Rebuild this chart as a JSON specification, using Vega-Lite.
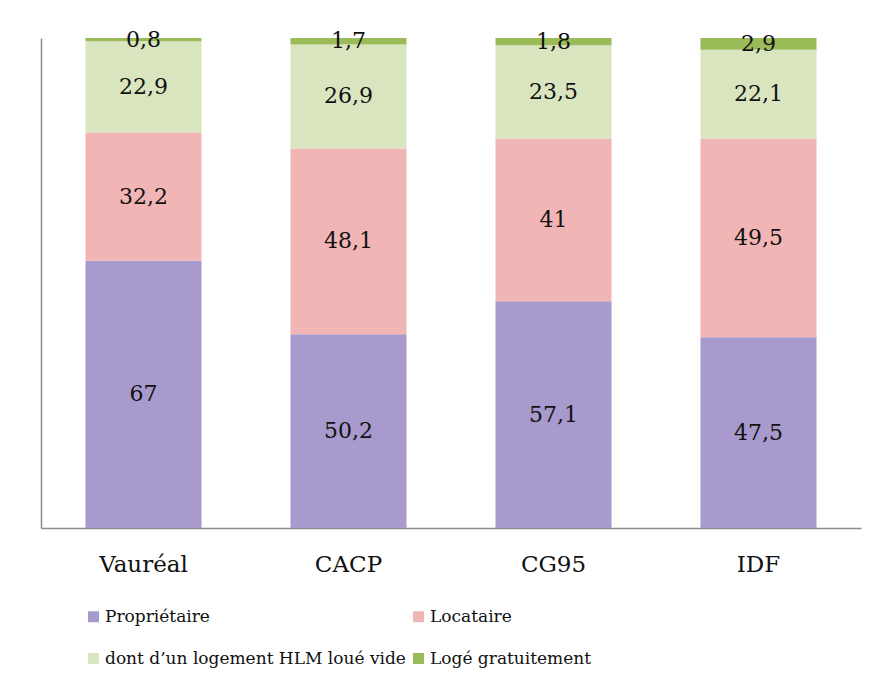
{
  "$schema": "https://vega.github.io/schema/vega-lite/v6.json",
  "width": 820,
  "height": 490,
  "autosize": {"type": "none"},
  "padding": {"left": 41, "top": 38, "right": 16, "bottom": 161},
  "background": "white",
  "config": {
    "view": {"stroke": null},
    "font": "DejaVu Serif",
    "locale": {"number": {"decimal": ",", "thousands": " ", "grouping": [3], "currency": ["", " €"]}}
  },
  "data": {
    "values": [
      {"zone": "Vauréal", "statut": "Propriétaire", "rang": 1, "valeur": 67},
      {"zone": "Vauréal", "statut": "Locataire", "rang": 2, "valeur": 32.2},
      {"zone": "Vauréal", "statut": "dont d’un logement HLM loué vide", "rang": 3, "valeur": 22.9},
      {"zone": "Vauréal", "statut": "Logé gratuitement", "rang": 4, "valeur": 0.8},
      {"zone": "CACP", "statut": "Propriétaire", "rang": 1, "valeur": 50.2},
      {"zone": "CACP", "statut": "Locataire", "rang": 2, "valeur": 48.1},
      {"zone": "CACP", "statut": "dont d’un logement HLM loué vide", "rang": 3, "valeur": 26.9},
      {"zone": "CACP", "statut": "Logé gratuitement", "rang": 4, "valeur": 1.7},
      {"zone": "CG95", "statut": "Propriétaire", "rang": 1, "valeur": 57.1},
      {"zone": "CG95", "statut": "Locataire", "rang": 2, "valeur": 41},
      {"zone": "CG95", "statut": "dont d’un logement HLM loué vide", "rang": 3, "valeur": 23.5},
      {"zone": "CG95", "statut": "Logé gratuitement", "rang": 4, "valeur": 1.8},
      {"zone": "IDF", "statut": "Propriétaire", "rang": 1, "valeur": 47.5},
      {"zone": "IDF", "statut": "Locataire", "rang": 2, "valeur": 49.5},
      {"zone": "IDF", "statut": "dont d’un logement HLM loué vide", "rang": 3, "valeur": 22.1},
      {"zone": "IDF", "statut": "Logé gratuitement", "rang": 4, "valeur": 2.9}
    ]
  },
  "encoding": {
    "x": {
      "field": "zone",
      "type": "nominal",
      "sort": ["Vauréal", "CACP", "CG95", "IDF"],
      "scale": {"paddingInner": 0.434, "paddingOuter": 0.217},
      "axis": {
        "title": null,
        "labelAngle": 0,
        "ticks": false,
        "domainColor": "#8c8c8c",
        "domainWidth": 1.5,
        "labelFont": "DejaVu Serif",
        "labelFontSize": 23,
        "labelColor": "#111111",
        "labelPadding": 25
      }
    },
    "y": {
      "field": "valeur",
      "type": "quantitative",
      "stack": "normalize",
      "axis": {
        "title": null,
        "labels": false,
        "ticks": false,
        "grid": false,
        "domainColor": "#8c8c8c",
        "domainWidth": 1.5
      }
    },
    "order": {"field": "rang", "type": "quantitative", "sort": "ascending"}
  },
  "layer": [
    {
      "mark": {"type": "bar"},
      "encoding": {
        "color": {
          "field": "statut",
          "type": "nominal",
          "sort": ["Propriétaire", "Locataire", "dont d’un logement HLM loué vide", "Logé gratuitement"],
          "scale": {
            "domain": ["Propriétaire", "Locataire", "dont d’un logement HLM loué vide", "Logé gratuitement"],
            "range": ["#a99ace", "#f1b5b5", "#d9e5bf", "#9bbb59"]
          },
          "legend": {
            "title": null,
            "orient": "none",
            "legendX": 44,
            "legendY": 570,
            "direction": "horizontal",
            "columns": 2,
            "columnPadding": 4,
            "rowPadding": 24,
            "symbolType": "square",
            "symbolSize": 120,
            "symbolStrokeWidth": 0,
            "labelFont": "DejaVu Serif",
            "labelFontSize": 17,
            "labelColor": "#111111",
            "labelLimit": 400,
            "labelOffset": 3
          }
        }
      }
    },
    {
      "mark": {"type": "text", "font": "DejaVu Serif", "fontSize": 22, "color": "#111111", "baseline": "middle"},
      "encoding": {
        "y": {"field": "valeur", "type": "quantitative", "stack": "normalize", "bandPosition": 0.5},
        "detail": {"field": "statut", "type": "nominal"},
        "text": {"field": "valeur", "type": "quantitative", "format": ".1~f"}
      }
    }
  ]
}
